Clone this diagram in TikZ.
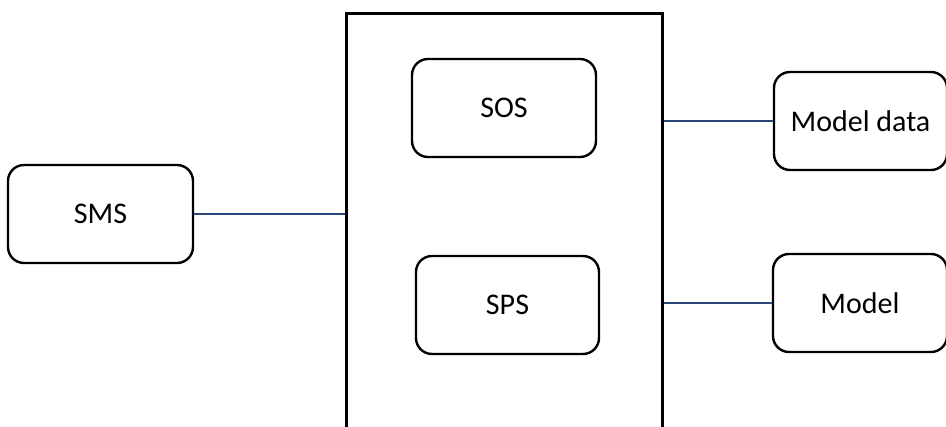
\documentclass[tikz,border=0pt]{standalone}
\usepackage{fontspec}
\setmainfont{Carlito}
\usetikzlibrary{positioning,calc}
\definecolor{ink}{HTML}{000000}
\definecolor{wire}{HTML}{2A4577}
\tikzset{
  unit/.style={draw=ink,line width=2.4pt,fill=white,rounded corners=16pt,inner sep=0pt,align=center,
    minimum width=#1,minimum height=98pt,font=\fontsize{30}{36}\selectfont},
  unit/.default=184pt,
  hub/.style={draw=ink,line width=3pt,inner sep=0pt,minimum width=316pt,minimum height=430pt},
  link/.style={draw=wire,line width=1.1pt}
}

\begin{document}
\begin{tikzpicture}[x=1pt,y=-1pt]
    \useasboundingbox (0,0) rectangle (946,427);
    \clip (0,0) rectangle (946,427);

    % central block and its two services
    \node[hub,anchor=north west] (core) at (345,12) {};
    \node[unit] (sos) at (504,108) {SOS};
    \node[unit=183pt,below=197pt of sos.center,xshift=3.5pt,anchor=center] (sps) {SPS};

    % outside parts
    \node[unit=185pt] (sms) at (100.5,214) {SMS};
    \node[unit=173pt] (mdata) at (860.5,121) {Model data};
    \node[unit=174pt] (model) at (860,303) {Model};

    \draw[link] (sms.east) -- (sms.east -| core.west);
    \draw[link] (mdata.west -| core.east) -- (mdata.west);
    \draw[link] (model.west -| core.east) -- (model.west);
  \end{tikzpicture}
\end{document}
